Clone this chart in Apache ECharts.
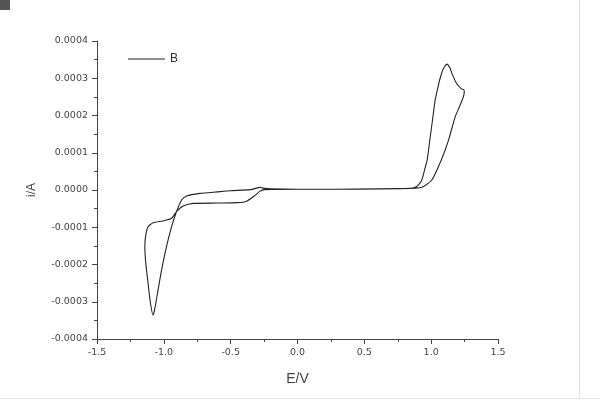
<!DOCTYPE html>
<html>
<head>
<meta charset="utf-8">
<script src="https://cdn.jsdelivr.net/npm/echarts@6/dist/echarts.min.js"></script>
<style>
  html, body { margin: 0; padding: 0; background: #fff; }
  #chart { width: 600px; height: 409px; }
</style>
</head>
<body>
<div id="chart"></div>
<script>
// scan order: 0 V -> anodic loop -> back through baseline -> cathodic loop -> 0 V
const potential = [
  0, 0.3, 0.6, 0.8, 0.87,
  0.9, 0.93, 0.955, 0.97, 0.99, 1.01, 1.03, 1.05, 1.067, 1.09, 1.118, 1.14, 1.155, 1.19, 1.225, 1.247,
  1.247, 1.217, 1.18, 1.13, 1.075, 1.005, 0.94, 0.88,
  0.6, 0.3, 0, -0.2, -0.26, -0.28, -0.35, -0.5, -0.6, -0.73, -0.83, -0.867, -0.905,
  -0.942, -0.98, -1.017, -1.043, -1.067, -1.08, -1.1, -1.118, -1.135, -1.142,
  -1.135, -1.118, -1.08, -1.005, -0.942, -0.905, -0.855, -0.78, -0.6, -0.45, -0.38, -0.32, -0.28, -0.25, 0
];
const current = [
  0.000002, 0.000002, 0.000003, 0.000004, 0.000006,
  0.000012, 0.000027, 0.00006, 0.00008, 0.000134, 0.000188, 0.000242, 0.000275, 0.0003, 0.000325, 0.000338, 0.000328, 0.000313, 0.000286, 0.000272, 0.000268,
  0.00026, 0.000228, 0.000197, 0.000134, 0.00008, 0.000027, 0.000009, 0.000005,
  0.000003, 0.000002, 0.000002, 0.000003, 0.000005, 0.000007, 0.000001, -0.000002, -0.000005, -0.000009, -0.000016, -0.000027, -0.000058,
  -0.0000985, -0.000152, -0.000215, -0.000268, -0.000318, -0.000336, -0.000304, -0.00025, -0.000197, -0.000152,
  -0.000121, -0.0000985, -0.000088, -0.000083, -0.000076, -0.000058, -0.000043, -0.000036, -0.000035, -0.000034, -0.00003, -0.000015, -0.000003, 0.000001, 0.000002
];
const seriesName = 'B';

const chart = echarts.init(document.getElementById('chart'));

const axisColor = '#444';
const labelFont = {color: '#444', fontSize: 9.5, fontFamily: 'DejaVu Sans'};

chart.setOption({
  animation: false,
  backgroundColor: '#fff',
  grid: {left: 97, right: 102, top: 41, bottom: 70},
  legend: {
    left: 128,
    top: 53,
    padding: 0,
    icon: 'rect',
    itemWidth: 37,
    itemHeight: 1,
    itemGap: 5,
    textStyle: {color: '#333', fontSize: 12, fontFamily: 'Liberation Sans'},
    data: [seriesName]
  },
  xAxis: {
    type: 'value',
    min: -1.5,
    max: 1.5,
    interval: 0.5,
    name: 'E/V',
    nameLocation: 'middle',
    nameGap: 33,
    nameTextStyle: {color: '#444', fontSize: 14, fontFamily: 'Liberation Sans'},
    axisLine: {show: true, onZero: false, lineStyle: {color: axisColor, width: 1}},
    axisTick: {show: true, length: 5, lineStyle: {color: axisColor}},
    minorTick: {show: true, splitNumber: 2, length: 3, lineStyle: {color: axisColor}},
    axisLabel: Object.assign({margin: 9, formatter: v => v.toFixed(1)}, labelFont),
    splitLine: {show: false}
  },
  yAxis: {
    type: 'value',
    min: -0.0004,
    max: 0.0004,
    interval: 0.0001,
    name: 'i/A',
    nameLocation: 'middle',
    nameGap: 59,
    nameTextStyle: {color: '#444', fontSize: 12, fontFamily: 'Liberation Sans'},
    axisLine: {show: true, onZero: false, lineStyle: {color: axisColor, width: 1}},
    axisTick: {show: true, length: 5, lineStyle: {color: axisColor}},
    minorTick: {show: true, splitNumber: 2, length: 3, lineStyle: {color: axisColor}},
    axisLabel: Object.assign({margin: 9, formatter: v => v.toFixed(4)}, labelFont),
    splitLine: {show: false}
  },
  series: [{
    name: seriesName,
    type: 'line',
    data: potential.map((e, i) => [e, current[i]]),
    showSymbol: false,
    smooth: 0.2,
    lineStyle: {color: '#222', width: 1.1},
    itemStyle: {color: '#222'}
  }],
  graphic: [
    {type: 'rect', shape: {x: 0, y: 0, width: 10, height: 10}, style: {fill: '#555'}},
    {type: 'line', shape: {x1: 579.5, y1: 0, x2: 579.5, y2: 398}, style: {stroke: '#ddd', lineWidth: 1}},
    {type: 'line', shape: {x1: 0, y1: 398.5, x2: 600, y2: 398.5}, style: {stroke: '#e6e6e6', lineWidth: 1}}
  ]
});
</script>
</body>
</html>
